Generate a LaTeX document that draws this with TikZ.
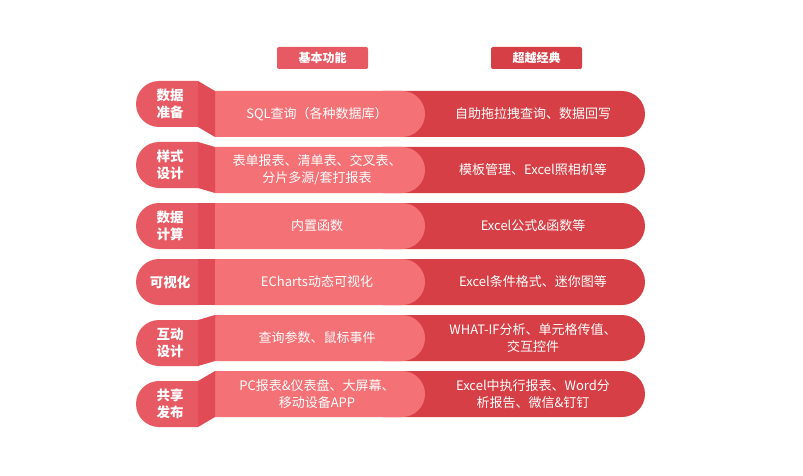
\documentclass[tikz,border=0pt]{standalone}
\usepackage{fontspec}
\setmainfont{Noto Sans CJK SC}
\usepackage{tikz}
\usetikzlibrary{positioning}

\definecolor{pillred}{HTML}{E85A63}
\definecolor{foldred}{HTML}{E04B55}
\definecolor{lightred}{HTML}{F47176}
\definecolor{darkred}{HTML}{D73F46}

\begin{document}
\begin{tikzpicture}[x=1pt,y=-1pt]
\tikzset{
  headbox/.style={minimum width=91pt, minimum height=22pt, rounded corners=2pt,
    text=white, font=\fontsize{12}{14}\selectfont\bfseries, inner sep=0pt},
  labtext/.style={text=white, align=center, font=\fontsize{13.5}{17}\selectfont\bfseries},
  bartext/.style={text=white, align=center, font=\fontsize{13}{17}\selectfont}
}
\useasboundingbox (0,0) rectangle (803,476);
% column heads
\node[headbox, fill=pillred] (basic) at (322.5,58) {基本功能};
\node[headbox, fill=darkred] (beyond) at (536.5,58) {超越经典};
% rows: number/offset/label/basic/beyond
\foreach \i/\off/\lab/\mid/\rgt in
{1/10/{数据\\准备}/{SQL查询（各种数据库）}/{自助拖拉拽查询、数据回写},
 2/5/{样式\\设计}/{表单报表、清单表、交叉表、\\分片多源/套打报表}/{模板管理、Excel照相机等},
 3/0/{数据\\计算}/{内置函数}/{Excel公式\&函数等},
 4/0/{可视化}/{ECharts动态可视化}/{Excel条件格式、迷你图等},
 5/-5/{互动\\设计}/{查询参数、鼠标事件}/{WHAT-IF分析、单元格传值、\\交互控件},
 6/-10/{共享\\发布}/{PC报表\&仪表盘、大屏幕、\\移动设备APP}/{Excel中执行报表、Word分\\析报告、微信\&钉钉}}{
\pgfmathsetmacro\T{91+56*(\i-1)}
\pgfmathsetmacro\P{\T-\off}
\fill[darkred, rounded corners=23pt] (360,\T) rectangle (645,\T+46);
\fill[lightred] (215,\T) [rounded corners=23pt] -- (425,\T) -- (425,\T+46) [sharp corners] -- (215,\T+46) -- cycle;
\fill[foldred] (198,\P) -- (215,\T) -- (215,\T+46) -- (198,\P+46) -- cycle;
\fill[pillred] (198,\P) [rounded corners=23pt] -- (136,\P) -- (136,\P+46) [sharp corners] -- (198,\P+46) -- cycle;
\node[labtext] (lab\i) at (170,\P+23) {\lab};
\node[bartext] (mid\i) at (317,\T+23) {\mid};
\node[bartext] (rgt\i) at (533,\T+23) {\rgt};
}
\end{tikzpicture}
\end{document}
